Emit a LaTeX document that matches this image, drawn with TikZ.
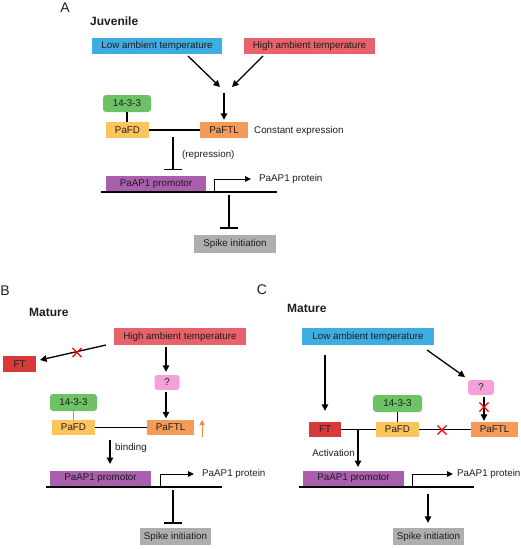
\documentclass[tikz,border=0pt]{standalone}
\usepackage{fontspec}
\setmainfont{Liberation Sans}
\usetikzlibrary{arrows.meta,shapes.misc}
\definecolor{lowblue}{HTML}{3EADE2}
\definecolor{highred}{HTML}{E8626B}
\definecolor{grn}{HTML}{6DC265}
\definecolor{fdyel}{HTML}{FDC45C}
\definecolor{ftlor}{HTML}{F59A58}
\definecolor{prom}{HTML}{A95FAD}
\definecolor{spk}{HTML}{AEAEAE}
\definecolor{ftred}{HTML}{D83A3A}
\definecolor{qpink}{HTML}{F5A0D8}
\definecolor{arrowor}{HTML}{F08A3C}
\definecolor{txt}{HTML}{1E1E1E}
\begin{document}
\begin{tikzpicture}[x=1pt,y=-1pt,
  box/.style={rectangle, inner sep=0pt, text=txt, font=\fontsize{9.8}{11}\selectfont},
  rbox/.style={box, rounded corners=3pt},
  ar/.style={-{Triangle[length=6.5pt,width=6.5pt]}, line width=1.3pt},
  tar/.style={-{Triangle[length=6pt,width=5.5pt]}, line width=1pt},
  tbar/.style={-{Bar[width=18pt,line width=1.4pt]}, line width=1.3pt},
  ln/.style={line width=1.2pt},
  dna/.style={line width=1.6pt},
  lab/.style={font=\fontsize{9.8}{11}\selectfont, inner sep=0pt, text=txt},
  ttl/.style={font=\bfseries\fontsize{12}{14}\selectfont, inner sep=0pt, text=txt},
  pl/.style={font=\fontsize{14}{16}\selectfont, inner sep=0pt, text=txt},
  xmark/.style={cross out, draw=red, line width=1.1pt, minimum size=8pt, inner sep=0pt},
]
\useasboundingbox (0,0) rectangle (520,549);

% ---------------- Panel A ----------------
\node[pl] (pA) at (65,8) {A};
\node[ttl,anchor=west] (tA) at (90,21) {Juvenile};
\node[box,fill=lowblue,minimum width=130pt,minimum height=16pt] (lowA) at (157,46) {Low ambient temperature};
\node[box,fill=highred,minimum width=131pt,minimum height=16pt] (highA) at (309.5,46) {High ambient temperature};
\coordinate (jAl) at (220,87);
\coordinate (jAr) at (232,87);
\coordinate (jA) at (224,93);
\coordinate (sAl) at (188,56);
\coordinate (sAr) at (263,56);
\draw[ar] (sAl) -- (jAl);
\draw[ar] (sAr) -- (jAr);
\node[rbox,fill=grn,minimum width=48pt,minimum height=17pt] (gA) at (127,103.5) {14-3-3};
\node[box,fill=fdyel,minimum width=43pt,minimum height=16pt] (fdA) at (127.5,130) {PaFD};
\node[box,fill=ftlor,minimum width=48pt,minimum height=16pt] (ftlA) at (224,130) {PaFTL};
\draw[ar] (jA) -- ([yshift=2pt]ftlA.north);
\node[lab,anchor=west] (ceA) at (254,131) {Constant expression};
\draw[ln] (gA.south) -- (gA.south |- fdA.north);
\draw[ln] (fdA.east) -- (ftlA.west);
\coordinate (rA1) at (173,137);
\coordinate (rA2) at (173,170);
\draw[tbar] (rA1) -- (rA2);
\node[lab,anchor=west] (repA) at (182,155) {(repression)};
\node[box,fill=prom,minimum width=100pt,minimum height=16pt] (prA) at (156,184) {PaAP1 promotor};
\coordinate (dA1) at (101,192);
\coordinate (dA2) at (277,192);
\draw[dna] (dA1) -- (dA2);
\node[lab,anchor=west] (ptA) at (259,179) {PaAP1 protein};
\coordinate (tsA) at (214,192);
\draw[tar] (tsA) |- ([xshift=-8pt]ptA.west);
\node[box,fill=spk,minimum width=82pt,minimum height=18pt] (spA) at (235,244) {Spike initiation};
\coordinate (iA1) at (229,195);
\draw[tbar] (iA1) -- ([yshift=6pt]iA1 |- spA.north);

% ---------------- Panel B ----------------
\node[pl] (pB) at (5,291) {B};
\node[ttl,anchor=west] (tB) at (29,312) {Mature};
\node[box,fill=highred,minimum width=132pt,minimum height=17pt] (highB) at (180,336.5) {High ambient temperature};
\node[box,fill=ftred,minimum width=33pt,minimum height=16pt] (ftB) at (19.5,364) {FT};
\coordinate (hB1) at (106,345);
\coordinate (hB2) at (40,360);
\draw[ar] (hB1) -- (hB2);
\node[xmark] (xB) at (77,352.5) {};
\node[rbox,fill=qpink,minimum width=25pt,minimum height=15pt] (qB) at (167,382.5) {?};
\coordinate (hB3) at (166,347);
\draw[ar] (hB3) -- ([yshift=3pt]hB3 |- qB.north);
\node[rbox,fill=grn,minimum width=47pt,minimum height=17pt] (gB) at (73.5,402.5) {14-3-3};
\node[box,fill=fdyel,minimum width=43pt,minimum height=15pt] (fdB) at (73.5,427.5) {PaFD};
\node[box,fill=ftlor,minimum width=47pt,minimum height=15pt] (ftlB) at (170.5,427.5) {PaFTL};
\draw[ar] ([yshift=-2pt]qB.south -| hB3) -- ([yshift=1.5pt]hB3 |- ftlB.north);
\draw[line width=0.8pt,color=gray!60!blue!60] (gB.south) -- (gB.south |- fdB.north);
\draw[ln] (fdB.east) -- (ftlB.west);
\coordinate (uB1) at (202,437);
\coordinate (uB2) at (202,420);
\draw[-{Triangle[length=5pt,width=5pt]},line width=1pt,arrowor] (uB1) -- (uB2);
\coordinate (bB1) at (110,440);
\coordinate (bB2) at (110,464);
\draw[ar] (bB1) -- (bB2);
\node[lab,anchor=west] (bindB) at (115,448) {binding};
\node[box,fill=prom,minimum width=101pt,minimum height=16pt] (prB) at (100.5,478.5) {PaAP1 promotor};
\coordinate (dB1) at (46,487);
\coordinate (dB2) at (222,487);
\draw[dna] (dB1) -- (dB2);
\node[lab,anchor=west] (ptB) at (202,474) {PaAP1 protein};
\coordinate (tsB) at (160,487);
\draw[tar] (tsB) |- ([xshift=-8pt]ptB.west);
\node[box,fill=spk,minimum width=71pt,minimum height=17pt] (spB) at (175.5,536.5) {Spike initiation};
\coordinate (iB1) at (173,490);
\draw[tbar] (iB1) -- ([yshift=4pt]iB1 |- spB.north);

% ---------------- Panel C ----------------
\node[pl] (pC) at (262,290) {C};
\node[ttl,anchor=west] (tC) at (287,308) {Mature};
\node[box,fill=lowblue,minimum width=132pt,minimum height=17pt] (lowC) at (368,336.5) {Low ambient temperature};
\node[rbox,fill=qpink,minimum width=26pt,minimum height=15pt] (qC) at (481,387.5) {?};
\node[rbox,fill=grn,minimum width=49pt,minimum height=17pt] (gC) at (397.5,403.5) {14-3-3};
\node[box,fill=ftred,minimum width=32pt,minimum height=15pt] (ftC) at (325,429.5) {FT};
\node[box,fill=fdyel,minimum width=43pt,minimum height=15pt] (fdC) at (397.5,429.5) {PaFD};
\node[box,fill=ftlor,minimum width=47pt,minimum height=15pt] (ftlC) at (494.5,429.5) {PaFTL};
\coordinate (lC1) at (325,355);
\draw[ar] (lC1) -- ([yshift=11pt]lC1 |- ftC.north);
\coordinate (lC2) at (427,350);
\coordinate (lC3) at (465,377);
\draw[ar] (lC2) -- (lC3);
\coordinate (qC1) at (484,397);
\draw[ar] (qC1) -- ([yshift=1pt]qC1 |- ftlC.north);
\node[xmark] (xC1) at (484,407) {};
\draw[ln] (gC.south) -- (gC.south |- fdC.north);
\draw[ln] (ftC.east) -- (fdC.west);
\draw[ln] (fdC.east) -- (ftlC.west);
\node[xmark] (xC2) at (442,430) {};
\coordinate (aC1) at (358,430);
\coordinate (aC2) at (358,467);
\draw[ar] (aC1) -- (aC2);
\node[lab,anchor=east] (actC) at (355,453) {Activation};
\node[box,fill=prom,minimum width=101pt,minimum height=16pt] (prC) at (353.5,478.5) {PaAP1 promotor};
\coordinate (dC1) at (299,487);
\coordinate (dC2) at (474,487);
\draw[dna] (dC1) -- (dC2);
\node[lab,anchor=west] (ptC) at (457,474) {PaAP1 protein};
\coordinate (tsC) at (412,487);
\draw[tar] (tsC) |- ([xshift=-4pt]ptC.west);
\node[box,fill=spk,minimum width=71pt,minimum height=17pt] (spC) at (428.5,536.5) {Spike initiation};
\coordinate (iC1) at (428,494);
\draw[ar] (iC1) -- ([yshift=5pt]iC1 |- spC.north);
\end{tikzpicture}
\end{document}
